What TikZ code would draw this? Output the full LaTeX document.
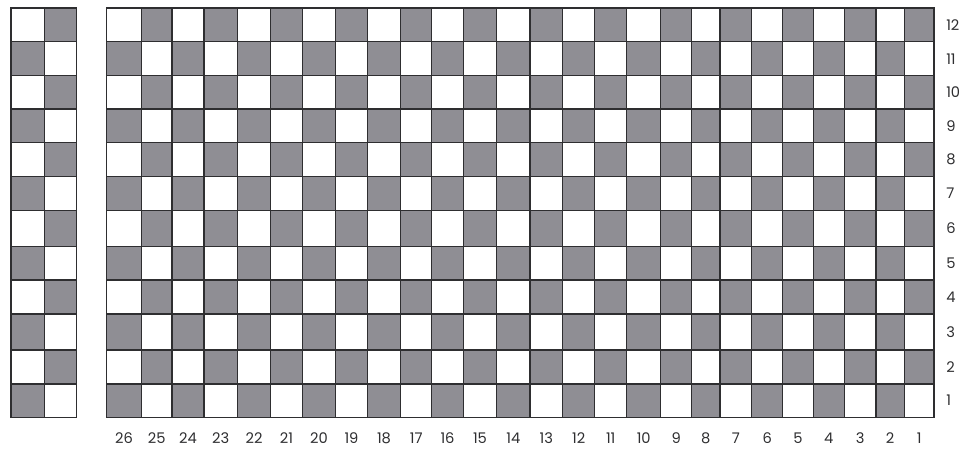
\documentclass[tikz,border=0pt]{standalone}
\usepackage{fontspec}
\setmainfont{Poppins}
\usetikzlibrary{positioning}
\definecolor{ink}{HTML}{2E2E30}
\definecolor{slate}{HTML}{8F8E94}
\tikzset{cell0/.style={draw=ink,fill=slate,line width=.8pt},cell1/.style={draw=ink,fill=white,line width=.8pt},numlabel/.style={font=\fontsize{11}{13}\selectfont,text=ink,inner sep=0pt}}
\def\colx{106.7,141.3,172,204,237.3,270.7,302.3,335.7,367.3,400.7,431.7,463.3,496.7,530,562.7,594.7,626.7,660.7,691.7,720,751.7,782.7,813.3,844.3,876,904.3,934}
\def\rowy{417.3,384,350,314,280,246.7,210.5,176.7,142.7,109,75.7,41.7,8}
\def\stripx{11,44.5,76.5}

\begin{document}
\begin{tikzpicture}[x=.75pt,y=-.75pt]
\useasboundingbox (0,0) rectangle (963,449);
% left strip
\foreach \c in {0,1}
  \foreach \r in {0,...,11} {
    \pgfmathsetmacro\xa{{\stripx}[\c]}
    \pgfmathsetmacro\xb{{\stripx}[\c+1]}
    \pgfmathsetmacro\ya{{\rowy}[\r]}
    \pgfmathsetmacro\yb{{\rowy}[\r+1]}
    \pgfmathtruncatemacro\odd{mod(\c+\r,2)}
    \path[cell\odd] (\xa,\ya) rectangle (\xb,\yb);
  }
% main grid
\foreach \c in {0,...,25}
  \foreach \r in {0,...,11} {
    \pgfmathsetmacro\xa{{\colx}[\c]}
    \pgfmathsetmacro\xb{{\colx}[\c+1]}
    \pgfmathsetmacro\ya{{\rowy}[\r]}
    \pgfmathsetmacro\yb{{\rowy}[\r+1]}
    \pgfmathtruncatemacro\odd{mod(\c+\r,2)}
    \path[cell\odd] (\xa,\ya) rectangle (\xb,\yb);
  }
% column numbers
\foreach \c in {0,...,25} {
  \pgfmathsetmacro\xa{{\colx}[\c]}
  \pgfmathsetmacro\xb{{\colx}[\c+1]}
  \pgfmathtruncatemacro\n{26-\c}
  \node[numlabel] (col\n) at ({(\xa+\xb)/2},438.5) {\n};
}
% row numbers
\foreach \r in {0,...,11} {
  \pgfmathsetmacro\ya{{\rowy}[\r]}
  \pgfmathsetmacro\yb{{\rowy}[\r+1]}
  \pgfmathtruncatemacro\n{\r+1}
  \node[numlabel,anchor=west] (row\n) at (946,{(\ya+\yb)/2}) {\n};
}
\end{tikzpicture}
\end{document}
